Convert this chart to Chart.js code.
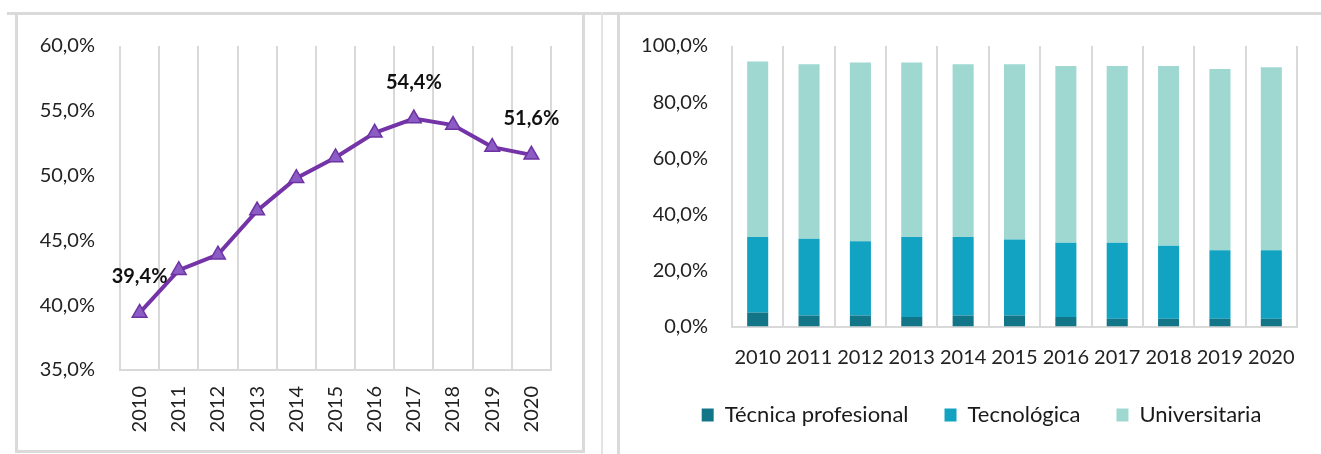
<!DOCTYPE html>
<html><head><meta charset="utf-8">
<script src="https://cdn.jsdelivr.net/npm/chart.js@4.4.1/dist/chart.umd.min.js"></script>
<style>
html,body{margin:0;padding:0;background:#fff;}
#wrap{position:relative;width:1321px;height:454px;overflow:hidden;background:#fff;}
.ln{position:absolute;background:#dadada;}
canvas{position:absolute;top:0;}
</style></head><body>
<div id="wrap">
<div class="ln" style="left:7px;top:12px;width:1314px;height:3px"></div>
<div class="ln" style="left:15px;top:12px;width:3px;height:441px"></div>
<div class="ln" style="left:582px;top:12px;width:3px;height:441px"></div>
<div class="ln" style="left:15px;top:450px;width:570px;height:3px"></div>
<div class="ln" style="left:601px;top:12px;width:2px;height:442px;background:#e3e3e3"></div>
<div class="ln" style="left:617px;top:12px;width:3px;height:442px"></div>
<canvas id="c1" width="600" height="454" style="left:0"></canvas>
<canvas id="c2" width="721" height="454" style="left:600px"></canvas>
</div>
<script>
// ---- data ----
const years = ['2010','2011','2012','2013','2014','2015','2016','2017','2018','2019','2020'];
const tasaCobertura = [39.4, 42.7, 43.9, 47.3, 49.8, 51.4, 53.3, 54.4, 53.9, 52.2, 51.6];
const labeledPoints = [0, 7, 10];
const lineTickValues = [35, 40, 45, 50, 55, 60];

const seriesNames = ['Técnica profesional', 'Tecnológica', 'Universitaria'];
const tecnicaProfesional = [5.0, 3.9, 3.9, 3.4, 3.9, 3.9, 3.4, 2.8, 2.8, 2.8, 2.8];
const tecnologica       = [26.9, 27.4, 26.5, 28.5, 28.0, 27.1, 26.5, 27.1, 26.0, 24.4, 24.4];
const universitaria     = [62.6, 62.2, 63.7, 62.2, 61.6, 62.5, 63.0, 63.0, 64.1, 64.6, 65.2];
const barTickValues = [0, 20, 40, 60, 80, 100];

// ---- helpers ----
const fmt = v => Number(v).toFixed(1).replace('.', ',') + '%';
Chart.defaults.font.family = "Lato, 'Open Sans', sans-serif";
Chart.defaults.color = '#222';

const pointLabelPlugin = {
  id: 'pointLabels',
  afterDatasetsDraw(chart) {
    const meta = chart.getDatasetMeta(0);
    const ctx = chart.ctx;
    ctx.save();
    ctx.font = "bold 20px Lato, 'Open Sans', sans-serif";
    ctx.fillStyle = '#111';
    ctx.textAlign = 'center';
    ctx.textBaseline = 'middle';
    labeledPoints.forEach(i => {
      const el = meta.data[i];
      ctx.fillText(fmt(tasaCobertura[i]), el.x, el.y - 36);
    });
    ctx.restore();
  }
};

// shift the legend horizontally after layout
const legendShift = {
  id: 'legendShift',
  afterLayout(chart) {
    const l = chart.legend;
    if (l) { l.left += 33; l.right += 33; }
  }
};

new Chart(document.getElementById('c1'), {
  type: 'line',
  data: {
    labels: years,
    datasets: [{
      data: tasaCobertura,
      borderColor: '#7434a8',
      borderWidth: 4,
      pointStyle: 'triangle',
      pointRadius: 8.5,
      pointBackgroundColor: '#8a5cc4',
      pointBorderColor: '#6e33a3',
      pointBorderWidth: 1.5,
      tension: 0,
      fill: false
    }]
  },
  options: {
    responsive: false,
    animation: false,
    layout: { padding: { left: 0, right: 49, top: 46, bottom: 0 } },
    plugins: { legend: { display: false }, tooltip: { enabled: false } },
    scales: {
      x: {
        offset: true,
        grid: { offset: true, color: '#d9d9d9', lineWidth: 2, drawTicks: false },
        border: { display: true, color: '#d9d9d9', width: 2 },
        ticks: { minRotation: 90, maxRotation: 90, padding: 16, color: '#222', font: { size: 20 } },
        afterFit(s) { s.height = 84; }
      },
      y: {
        min: lineTickValues[0],
        max: lineTickValues[lineTickValues.length - 1],
        grid: { display: false, drawTicks: false },
        border: { display: false },
        afterBuildTicks(s) { s.ticks = lineTickValues.map(v => ({ value: v })); },
        ticks: { padding: 25, callback: v => fmt(v), color: '#222', font: { size: 20 } },
        afterFit(s) { s.width = 120; }
      }
    }
  },
  plugins: [pointLabelPlugin]
});

new Chart(document.getElementById('c2'), {
  type: 'bar',
  data: {
    labels: years,
    datasets: [
      { label: seriesNames[0], data: tecnicaProfesional, backgroundColor: '#137688' },
      { label: seriesNames[1], data: tecnologica, backgroundColor: '#11a3c1' },
      { label: seriesNames[2], data: universitaria, backgroundColor: '#9ed8d1' }
    ]
  },
  options: {
    responsive: false,
    animation: false,
    datasets: { bar: { barPercentage: 0.41, categoryPercentage: 1 } },
    layout: { padding: { left: 0, right: 24, top: 46, bottom: 18 } },
    plugins: {
      legend: {
        position: 'bottom',
        labels: { boxWidth: 12, boxHeight: 13, padding: 36, color: '#1a1a1a', font: { size: 22 } }
      },
      tooltip: { enabled: false }
    },
    scales: {
      x: {
        stacked: true,
        grid: { offset: true, color: '#d9d9d9', lineWidth: 2, drawTicks: false },
        border: { display: true, color: '#d9d9d9', width: 2 },
        ticks: { padding: 19.5, maxRotation: 0, minRotation: 0, autoSkip: false, color: '#222', font: { size: 20 } },
        afterFit(s) { s.height = 41.5; }
      },
      y: {
        stacked: true,
        min: barTickValues[0],
        max: barTickValues[barTickValues.length - 1],
        grid: { display: false, drawTicks: false },
        border: { display: false },
        afterBuildTicks(s) { s.ticks = barTickValues.map(v => ({ value: v })); },
        ticks: { padding: 24, callback: v => fmt(v), color: '#222', font: { size: 20 } },
        afterFit(s) { s.width = 132; }
      }
    }
  },
  plugins: [legendShift]
});
</script>
</body></html>
